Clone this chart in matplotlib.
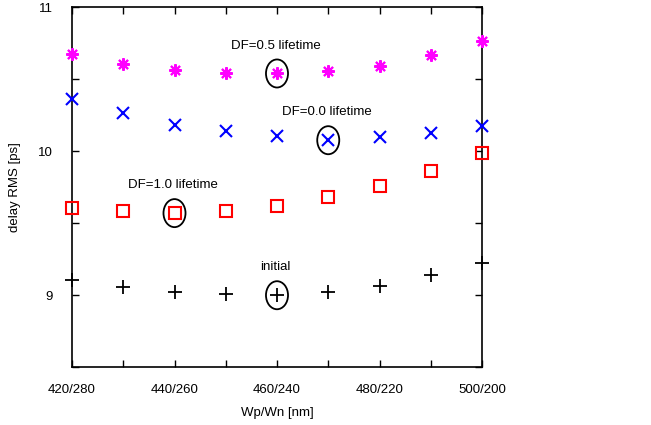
import numpy as np
import matplotlib
matplotlib.use('Agg')
import matplotlib.pyplot as plt
from matplotlib.patches import Ellipse

plt.rcParams['font.family'] = ['Liberation Sans', 'DejaVu Sans']
plt.rcParams['font.size'] = 9.5

# data
widths = ['420/280', '430/270', '440/260', '450/250', '460/240',
          '470/230', '480/220', '490/210', '500/200']
df05 = [10.674, 10.604, 10.562, 10.543, 10.541, 10.556, 10.590, 10.669, 10.766]
df00 = [10.364, 10.263, 10.181, 10.139, 10.105, 10.077, 10.098, 10.125, 10.174]
df10 = [9.605, 9.582, 9.570, 9.582, 9.619, 9.679, 9.761, 9.861, 9.991]
init = [9.108, 9.054, 9.024, 9.006, 8.999, 9.022, 9.066, 9.139, 9.226]

# which point of each series gets circled, and its label
marked = [(df05, 4, 'DF=0.5 lifetime'),
          (df00, 5, 'DF=0.0 lifetime'),
          (df10, 2, 'DF=1.0 lifetime'),
          (init, 4, 'initial')]

x = np.arange(len(widths))

fig = plt.figure(figsize=(6.51, 4.25), dpi=100)
ax = fig.add_axes([0.1106, 0.1365, 0.6298, 0.8459])

kw = dict(ls='none', clip_on=False, zorder=3)
ax.plot(x, df05, marker=(8, 2, 0), ms=9, mec='#ff00ff', mew=1.5, **kw)
ax.plot(x, df00, marker='x', ms=8.5, mec='#0000ff', mew=1.5, **kw)
ax.plot(x, df10, marker='s', ms=8, mfc='none', mec='#ff0000', mew=1.5, **kw)
ax.plot(x, init, marker='+', ms=10, mec='black', mew=1.3, **kw)

for ys, i, txt in marked:
    ax.add_patch(Ellipse((x[i], ys[i]), 0.43, 0.195, fill=False, ec='black', lw=1.3))
    ax.annotate(txt, (x[i], ys[i]), xytext=(-1, 20), textcoords='offset points',
                ha='center', va='center', fontsize=9.5)

ax.set_xlim(0, 8)
ax.set_ylim(8.5, 11)
ax.set_xticks(x)
ax.set_xticklabels([w if k % 2 == 0 else '' for k, w in enumerate(widths)])
ax.set_yticks([8.5, 9, 9.5, 10, 10.5, 11])
ax.set_yticklabels(['', '9', '', '10', '', '11'])
ax.tick_params(direction='in', top=True, right=True, length=5, width=1, pad=12)
ax.tick_params(axis='y', pad=14)
for s in ax.spines.values():
    s.set_linewidth(1.2)

ax.set_xlabel('Wp/Wn [nm]', labelpad=8)
ax.set_ylabel('delay RMS [ps]', labelpad=12)

plt.savefig('out.png', dpi=100)
